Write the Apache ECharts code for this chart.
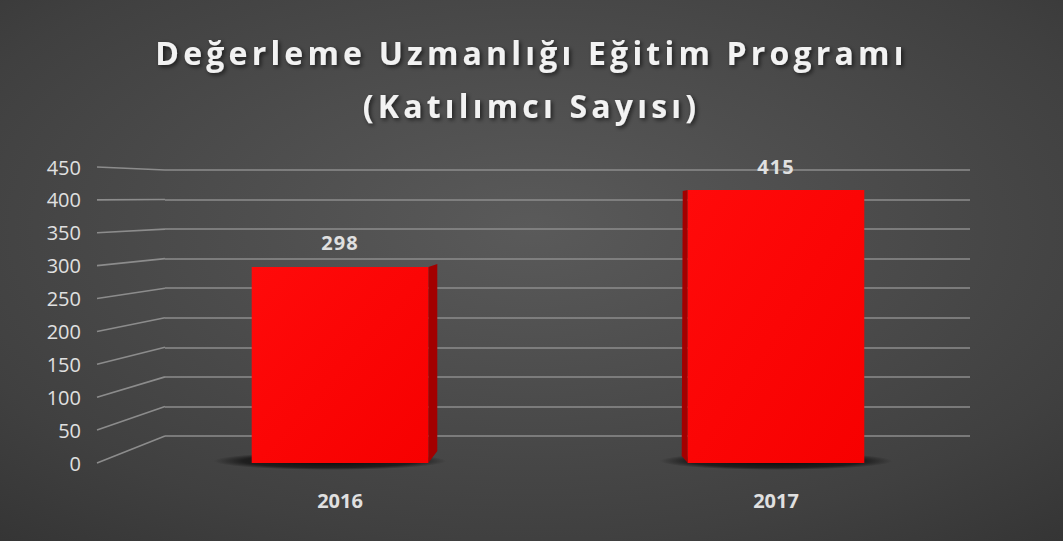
<!DOCTYPE html>
<html>
<head>
<meta charset="utf-8">
<script src="https://cdn.jsdelivr.net/npm/echarts@6/dist/echarts.min.js"></script>
<style>
  html, body { margin: 0; padding: 0; background: #2a2a2a; }
  #chart { width: 1063px; height: 541px; }
  /* the title is spaced out like in the original slide */
  #chart text[style*="32px"] { letter-spacing: 4.2px; }
  #chart text[style*="bold 20px"] { letter-spacing: 1px; }
</style>
</head>
<body>
<div id="chart"></div>
<script>
  // data
  var years = ['2016', '2017']
  var participants = [298, 415]
  var yTicks = [0, 50, 100, 150, 200, 250, 300, 350, 400, 450]

  var frontLeft = 122
  var textColor = '#e0e0e0'

  var myChart = echarts.init(document.getElementById('chart'), null, { renderer: 'svg' })

  function renderBar (params, api) {
    var i = api.value(0)
    var v = api.value(1)
    var base = api.coord([i, 0])
    var top = api.coord([i, v])
    var w = api.size([1, 0])[0] * 0.405
    var x0 = base[0] - w / 2
    var x1 = base[0] + w / 2
    // side face: right for the first bar, left for the second
    var side = i === 0
      ? [[x1, top[1]], [x1 + 9, top[1] - 3], [x1 + 9, base[1] - 12], [x1, base[1]]]
      : [[x0, top[1]], [x0 - 5, top[1] + 1], [x0 - 6, base[1] - 7], [x0, base[1]]]
    return {
      type: 'group',
      children: [
        {
          type: 'ellipse',
          shape: { cx: base[0] - (i === 0 ? 10 : 0), cy: base[1] - 2, rx: w / 2 + 28, ry: 9 },
          style: {
            fill: new echarts.graphic.RadialGradient(0.5, 0.5, 0.5, [
              { offset: 0, color: 'rgba(0,0,0,0.85)' },
              { offset: 0.75, color: 'rgba(0,0,0,0.55)' },
              { offset: 1, color: 'rgba(0,0,0,0)' }
            ])
          }
        },
        {
          type: 'polygon',
          shape: { points: side },
          style: { fill: '#a30000' }
        },
        {
          type: 'rect',
          shape: { x: x0, y: top[1], width: w, height: base[1] - top[1] },
          style: {
            fill: new echarts.graphic.LinearGradient(0, 0, 1, 1, [
              { offset: 0, color: '#ff0a0a' },
              { offset: 1, color: '#f70000' }
            ])
          }
        },
        {
          type: 'text',
          x: base[0],
          y: top[1] - 24,
          style: {
            text: String(v),
            align: 'center',
            verticalAlign: 'middle',
            fill: textColor,
            font: 'bold 20px "Open Sans"'
          }
        }
      ]
    }
  }

  function renderConnector (params, api) {
    var v = api.value(1)
    var wall = api.coord([0, v])
    var frontY = myChart.convertToPixel({ yAxisIndex: 0 }, v)
    return {
      type: 'line',
      shape: { x1: frontLeft - 25, y1: frontY, x2: wall[0], y2: wall[1] },
      style: { stroke: '#8c8c8c', lineWidth: 1.6 }
    }
  }

  myChart.setOption({
    animation: false,
    backgroundColor: {
      type: 'radial',
      x: 0.5,
      y: 0.42,
      r: 1.05,
      colorStops: [
        { offset: 0, color: '#5a5a5a' },
        { offset: 0.55, color: '#404040' },
        { offset: 1, color: '#242424' }
      ]
    },
    title: {
      text: 'Değerleme Uzmanlığı Eğitim Programı\n(Katılımcı Sayısı)',
      left: 'center',
      top: 21,
      textStyle: {
        color: '#f2f2f2',
        fontFamily: 'Open Sans',
        fontWeight: 'bold',
        fontSize: 32,
        lineHeight: 53,
        textShadowColor: 'rgba(0,0,0,0.6)',
        textShadowBlur: 4,
        textShadowOffsetX: 2,
        textShadowOffsetY: 2
      }
    },
    grid: [
      { left: frontLeft, right: 69, top: 167, bottom: 78 },
      { left: 165, right: 93, top: 170, bottom: 105 }
    ],
    xAxis: [
      {
        type: 'category',
        gridIndex: 0,
        data: years,
        axisLine: { show: false },
        axisTick: { show: false },
        axisLabel: {
          margin: 27,
          color: textColor,
          fontFamily: 'Open Sans',
          fontWeight: 'bold',
          fontSize: 20
        }
      },
      {
        type: 'value',
        gridIndex: 1,
        min: 0,
        max: 450,
        show: false
      }
    ],
    yAxis: [
      {
        type: 'value',
        gridIndex: 0,
        min: 0,
        max: 450,
        interval: 50,
        axisLine: { show: false },
        axisTick: { show: false },
        splitLine: { show: false },
        axisLabel: {
          margin: 41,
          color: textColor,
          fontFamily: 'Open Sans',
          fontSize: 20
        }
      },
      {
        type: 'value',
        gridIndex: 1,
        min: 0,
        max: 450,
        interval: 50,
        axisLine: { show: false },
        axisTick: { show: false },
        axisLabel: { show: false },
        splitLine: { lineStyle: { color: '#8c8c8c', width: 1.6 } }
      }
    ],
    series: [
      {
        type: 'custom',
        xAxisIndex: 1,
        yAxisIndex: 1,
        renderItem: renderConnector,
        data: yTicks.map(function (v) { return [0, v] }),
        z: 1
      },
      {
        type: 'custom',
        xAxisIndex: 0,
        yAxisIndex: 0,
        renderItem: renderBar,
        data: participants.map(function (v, k) { return [k, v] }),
        z: 3
      }
    ]
  })
</script>
</body>
</html>
